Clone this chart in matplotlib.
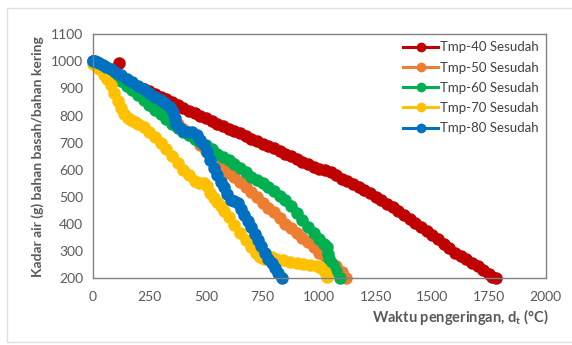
import matplotlib
matplotlib.use("Agg")
import matplotlib.pyplot as plt
from matplotlib.patches import Rectangle

plt.rcParams['font.family'] = ['Lato', 'DejaVu Sans']
plt.rcParams['mathtext.fontset'] = 'custom'
plt.rcParams['mathtext.rm'] = 'Lato'
plt.rcParams['mathtext.bf'] = 'Lato:bold'

# drying time (x) and water content (y) per temperature run
x40 = [0, 20, 40, 60, 80, 100, 110, 118, 122, 150, 175, 200, 225, 250, 275, 300, 325, 350,
       375, 400, 425, 450, 475, 500, 525, 550, 575, 600, 625, 650, 675, 700, 725, 750,
       775, 800, 825, 850, 875, 900, 925, 950, 975, 1000, 1025, 1050, 1075, 1100, 1125,
       1150, 1175, 1200, 1225, 1250, 1275, 1300, 1325, 1350, 1375, 1400, 1425, 1450,
       1475, 1500, 1525, 1550, 1575, 1600, 1625, 1650, 1675, 1700, 1725, 1750, 1765, 1780]
y40 = [1000, 990, 975, 962, 952, 945, 943, 995, 938, 925, 915, 905, 897, 890, 880, 870, 860,
       850, 838, 828, 818, 808, 800, 790, 780, 770, 762, 752, 745, 735, 725, 715, 706, 697,
       688, 680, 670, 660, 650, 640, 630, 620, 610, 603, 600, 592, 580, 568, 558, 547, 536,
       525, 513, 500, 488, 475, 462, 449, 435, 420, 406, 390, 375, 360, 345, 328, 312, 295,
       282, 270, 258, 246, 232, 215, 205, 200]

x50 = [0, 25, 50, 75, 100, 125, 150, 175, 200, 225, 250, 275, 300, 325, 350, 375, 400, 425,
       450, 475, 500, 525, 550, 575, 600, 625, 650, 675, 700, 725, 750, 775, 800, 825, 850,
       875, 900, 925, 950, 975, 1000, 1025, 1050, 1075, 1100, 1120]
y50 = [1000, 990, 975, 962, 950, 935, 922, 908, 895, 880, 865, 848, 830, 812, 790, 768, 750,
       730, 712, 690, 670, 650, 630, 605, 588, 572, 556, 538, 520, 500, 478, 460, 445, 422,
       402, 385, 368, 350, 333, 315, 295, 282, 262, 245, 222, 202]

x60 = [0, 25, 50, 75, 100, 125, 150, 175, 200, 225, 250, 275, 300, 325, 350, 375, 400, 425,
       450, 475, 500, 525, 550, 575, 600, 625, 650, 675, 700, 725, 750, 775, 800, 825, 850,
       875, 900, 925, 950, 975, 1000, 1020, 1035, 1040, 1045, 1060, 1075, 1090]
y60 = [1000, 990, 972, 958, 945, 928, 910, 893, 875, 858, 840, 822, 805, 788, 770, 755, 740,
       728, 715, 702, 690, 675, 660, 648, 635, 622, 608, 592, 575, 562, 550, 535, 522, 505,
       488, 465, 440, 415, 390, 368, 345, 325, 315, 290, 270, 248, 228, 202]

x70 = [0, 15, 30, 50, 65, 80, 95, 110, 125, 140, 155, 170, 185, 200, 225, 250, 275, 300, 325,
       350, 375, 400, 425, 450, 470, 490, 505, 520, 535, 550, 565, 580, 600, 625, 650, 675,
       700, 720, 740, 755, 770, 790, 810, 840, 870, 900, 930, 960, 990, 1010, 1025, 1035]
y70 = [990, 985, 970, 950, 935, 912, 885, 855, 828, 805, 790, 782, 775, 770, 758, 740, 722,
       700, 678, 652, 625, 600, 580, 560, 552, 550, 540, 515, 498, 482, 468, 448, 425, 395,
       368, 340, 315, 295, 278, 270, 275, 278, 272, 268, 262, 257, 254, 250, 245, 240, 225, 205]

x80 = [0, 10, 20, 30, 45, 60, 80, 100, 125, 150, 175, 200, 225, 250, 275, 300, 320, 340, 355,
       362, 370, 385, 400, 420, 440, 460, 475, 490, 505, 520, 535, 550, 565, 580, 595, 610,
       625, 640, 655, 670, 685, 700, 715, 730, 745, 760, 775, 790, 805, 820, 835]
y80 = [1000, 1000, 997, 992, 985, 978, 970, 960, 948, 935, 922, 910, 897, 885, 870, 857, 845,
       830, 812, 790, 768, 755, 745, 740, 738, 728, 710, 690, 665, 635, 605, 580, 555, 535,
       510, 490, 485, 478, 455, 435, 412, 390, 365, 340, 318, 295, 272, 255, 240, 220, 200]

series = [
    (x40, y40, 'Tmp-40 Sesudah', '#C00000'),
    (x50, y50, 'Tmp-50 Sesudah', '#ED7D31'),
    (x60, y60, 'Tmp-60 Sesudah', '#00B050'),
    (x70, y70, 'Tmp-70 Sesudah', '#FFC000'),
    (x80, y80, 'Tmp-80 Sesudah', '#0070C0'),
]

fig = plt.figure(figsize=(5.72, 3.45), dpi=100)
ax = fig.add_axes([0.162, 0.193, 0.792, 0.708])

for xs, ys, name, col in series:
    ax.plot(xs, ys, color=col, lw=2.2, marker='o', ms=8, mec=col, mfc=col,
            label=name, clip_on=False)

ax.set_xlim(0, 2000)
ax.set_ylim(200, 1100)
ax.set_xticks(range(0, 2001, 250))
ax.set_yticks(range(200, 1101, 100))
ax.tick_params(length=0, labelsize=10, colors='#595959')
ax.tick_params(axis='x', pad=9)
ax.tick_params(axis='y', pad=7)
for s in ax.spines.values():
    s.set_color('#808080')
    s.set_linewidth(1.0)

ax.set_ylabel('Kadar air (g) bahan basah/bahan kering', fontsize=10,
              fontweight='bold', color='#595959', labelpad=5)
fig.text(0.96, 0.081, r'Waktu pengeringan, d$_{\mathbf{t}}$ (°C)', ha='right',
         va='center', fontsize=10.5, fontweight='bold', color='#595959')

leg = ax.legend(loc='upper right', frameon=False, fontsize=9.5, handlelength=2.6,
                labelspacing=0.62, handletextpad=0.15, borderaxespad=0.15)
for t in leg.get_texts():
    t.set_color('#404040')
for h in leg.legend_handles:
    h.set_markersize(6)
    h.set_linewidth(2.2)

# chart area frame
fig.patches.append(Rectangle((7 / 572, 0.01), 1.2, 1 - 8 / 345 - 0.01,
                             transform=fig.transFigure, fill=False,
                             edgecolor='#E0E0E0', lw=1.0))

fig.savefig('out.png', dpi=100)
